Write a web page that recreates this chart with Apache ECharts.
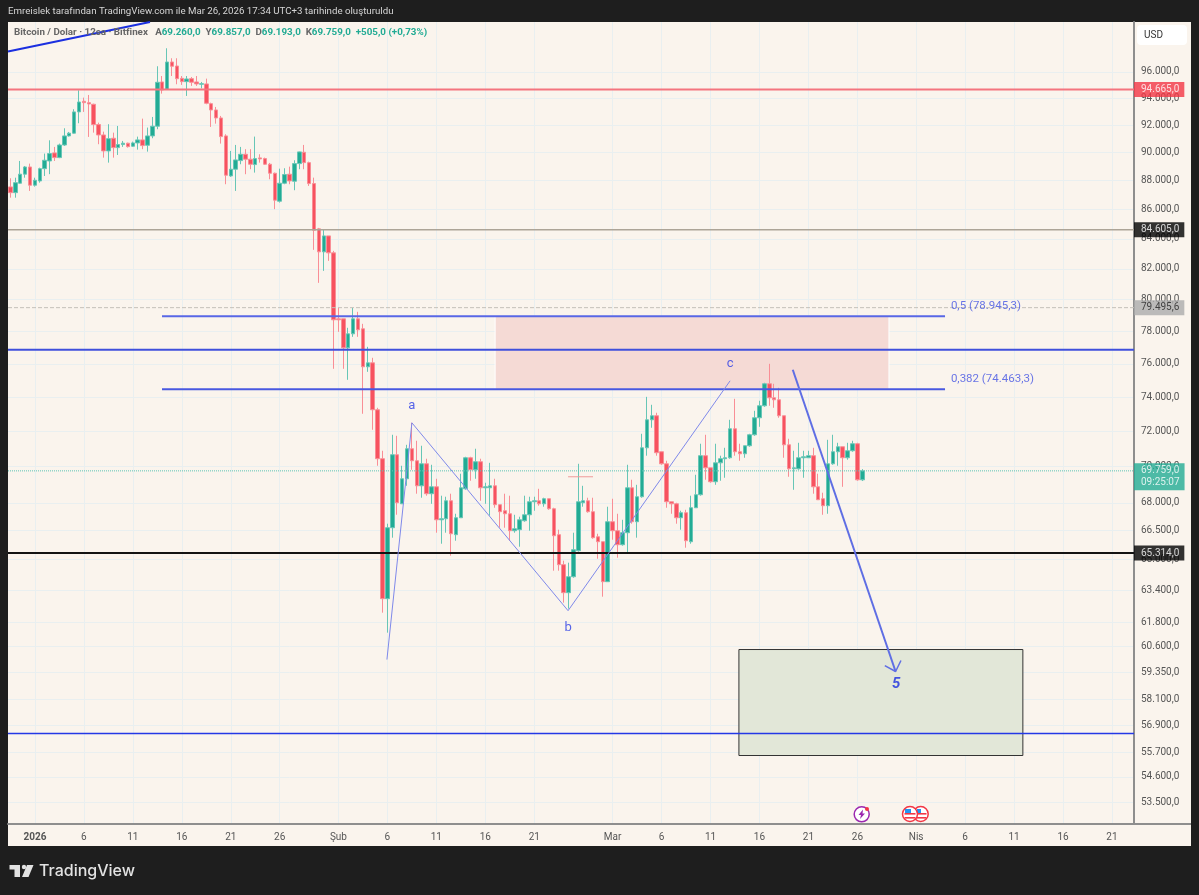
<!DOCTYPE html>
<html lang="tr">
<head>
<meta charset="UTF-8">
<title>Bitcoin / Dolar</title>
<style>
html,body{margin:0;padding:0;background:#1e1e1e;}
#main{width:1199px;height:895px;}
</style>
</head>
<body>
<div id="main"></div>
<script src="https://cdn.jsdelivr.net/npm/echarts@6/dist/echarts.min.js"></script>
<script>
// 12h candles, index 5 is 1 Jan 2026
var opens = [
87560,87160,87820,88460,88970,87680,87980,88850,89400,89980,
89640,90550,91210,91410,92980,93775,93670,93550,92040,91280,
90120,91040,90360,90580,90680,90460,90700,90920,90530,91210,
91920,95235,94680,96770,96460,95515,95260,95490,95235,95060,
95085,93595,93125,92530,91210,88335,88810,89425,89880,89525,
89140,89620,89570,89165,88525,86565,87820,88456,87960,89210,
90025,89280,87795,84670,83125,84195,83060,78787,78787,76980,
77847,78787,78160,75820,76060,73255,70440,62975,66655,70665,
67945,69320,71005,70326,68930,70155,68495,68875,67080,67135,
68110,66285,67190,68765,70495,69820,70270,68820,68820,68930,
67895,67568,67405,66495,66550,67029,67350,68055,68110,67945,
68220,67675,66285,64712,63278,64092,65440,68000,68110,67515,
66175,65912,63837,66975,66495,65755,66390,68820,66975,68330,
71060,72670,72905,70835,70155,68055,67945,67190,67460,65912,
67730,68440,70610,69930,69155,70210,70440,70495,72150,70835,
70720,71175,71804,72788,73490,74795,73960,73843,72905,71230,
69876,69876,70495,70495,70610,68875,68220,67840,70155,70835,
71118,70495,70891,71290,69260];
var highs = [
88170,88210,89400,89040,89210,88210,88920,89930,90890,90410,
90650,91770,91500,93180,94600,94050,94250,93595,92185,91523,
92068,91450,91940,90844,90720,90795,91158,92480,91820,92605,
96440,95690,97838,97060,97060,95690,95690,95615,95690,95235,
95490,93670,93350,92680,91330,90120,90554,90410,90245,90245,
91160,89880,89640,89260,88570,88850,88880,88995,89450,90070,
90554,89350,88214,84735,84600,84195,83192,79483,78787,78223,
79483,79230,78473,77040,76368,73372,70891,66870,71804,71745,
70045,71230,72495,71460,71175,70440,70100,69320,68385,68330,
68495,67405,69600,70550,70550,71005,70440,69100,70210,69320,
67895,68495,68385,67350,67245,68385,68330,68330,68765,68275,
68220,67730,66550,64918,64815,66390,70155,68930,68275,68275,
66335,65912,67785,68220,67405,67080,70100,69265,68985,71860,
74018,73548,73080,70835,70326,68055,68000,67568,67620,68385,
69540,71290,71804,69930,71290,70610,71060,72670,73900,71290,
71175,71860,73196,73784,74855,76000,74795,74555,72905,71575,
70891,71345,70891,70891,71060,69600,68550,71515,71804,71345,
71118,71345,71460,71345,69857];
var lows = [
86810,86810,87790,88210,87280,87580,87860,88330,88460,89400,
89600,90480,91160,91380,92140,92980,91136,91450,90605,89638,
89280,89638,89830,90410,90360,90410,90215,90245,90070,91040,
91700,94350,94628,95690,95060,95010,94175,94935,94935,94750,
93550,91870,92110,90650,87750,88265,87282,89165,88456,88810,
88570,89280,89115,88100,86015,86470,87750,87750,87330,88810,
88810,87630,83260,81090,81871,82529,75697,77970,75697,75034,
77660,77660,73022,75515,72092,70045,62273,61285,66125,67352,
67945,68930,69820,68495,68275,68385,67945,66390,65807,66390,
65180,65965,67190,68710,69209,69320,68110,67945,67300,67730,
66655,66655,65965,66390,65650,66975,66495,67568,67840,67785,
67620,64401,64401,62774,62473,64040,65388,67785,67460,66070,
65022,63075,63837,66018,65075,65702,65283,66870,66125,68275,
70610,72208,70610,70100,67730,67405,66870,66550,65597,65807,
67730,68385,69265,69100,68985,69209,69375,70440,70610,70326,
70495,71118,71745,72265,73430,73490,73372,72788,70495,69430,
68710,69820,69375,70495,68495,68165,67350,67405,70100,70045,
68875,70382,70835,69209,69193];
var closes = [
87160,87860,88460,88970,87680,88030,88850,89450,89930,89640,
90550,91210,91410,92980,93720,93670,93573,92040,91280,90120,
91010,90360,90580,90680,90430,90700,90920,90505,91210,91920,
95212,94628,96770,96440,95485,95260,95465,95212,95085,95105,
93625,93125,92530,91160,88385,88810,89475,89880,89525,89165,
89570,89545,89165,88525,86635,87820,88430,87983,89210,90050,
89280,87795,84580,83125,84195,83060,78725,78725,76980,77847,
78787,78097,75820,76060,73255,70440,62975,66655,70665,68000,
69320,71005,70326,68930,70155,68495,68875,67080,67135,68110,
66335,67190,68820,70495,69820,70270,68820,68875,68930,67895,
67515,67405,66495,66600,67080,67350,68055,68110,67945,68220,
67675,66230,64712,63278,64092,65492,68055,68110,67515,66125,
65912,63837,66975,66495,65755,66390,68820,66975,68330,71060,
72670,72905,70778,70155,68055,67945,67190,67460,65965,67730,
68440,70610,69930,69155,70210,70440,70495,72150,70835,70720,
71175,71804,72788,73490,74795,73960,73843,72905,71230,69876,
69930,70495,70550,70610,68875,68165,67840,70155,70835,71118,
70495,70891,71290,69260,69759];

var slotCount = 230;
var xTickIndex = [5,15,25,35,45,55,67,77,87,97,107,123,133,143,153,163,173,185,195,205,215,225];
var xTickText = ['2026','6','11','16','21','26','Şub','6','11','16','21','Mar','6','11','16','21','26','Nis','6','11','16','21'];
var yTicks = [96000,94000,92000,90000,88000,86000,84000,82000,80000,78000,76000,74000,72000,70000,68000,66500,65000,63400,61800,60600,59350,58100,56900,55700,54600,53500];

// price levels across the full width
var redLevel = 94665, tanLevel = 84605, dashLevel = 79495.6, blueLevel = 76856, lastPrice = 69759, blackLevel = 65314, lowLevel = 56530;
var fibPrices = [78945.3, 74463.3];
var fibFrom = 30.96, fibTo = 190.9;
// drawings, [slot, price]
var trendTop = [[-0.5,97580],[28.5,99918]];
var waveLine = [[76.9,59980],[82,72495],[113.9,62373],[147,74974]];
var arrowShaft = [[159.8,75637],[180.8,59410]];
var arrowHead = [[178.6,59693],[180.8,59410],[181.9,59933]];
var smallMark = [[113.9,69430],[119,69430]];
var pinkBox = [[99,78945.3],[179.45,74463.3]];
var greenBox = [[148.8,60463],[206.8,55545]];
var waveLabels = [['a',82,73492],['b',113.9,61526],['c',147,76000]];
var fiveLabel = [180.9,58790];
var fibLabels = [['0,5 (78.945,3)',192.1,79610],['0,382 (74.463,3)',192.1,75090]];
// tags in the price scale
var tagPrices = [94665,84605,79495.6,65314,69430];
var tagTexts = ['94.665,0','84.605,0','79.495,6','65.314,0','69.759,0\n09:25:07'];
var tagBack = ['#f23645','#000000','#ababab','#000000','#22ab94'];
var tagFore = ['#ffffff','#ffffff','#222222','#ffffff','#ffffff'];

var FONT = 'Roboto';
var upColor = '#22ab94', downColor = '#f7525f', upWick = '#67c6b6', downWick = '#f98e96', paper = '#faf4ed', gridColor = '#e9eff0';

var categories = [];
for (var i = 0; i < slotCount; i++) categories.push('s' + i);
var candles = [];
for (var k = 0; k < opens.length; k++) candles.push([opens[k], closes[k], lows[k], highs[k]]);

function priceText(v) {
    var n = String(Math.round(v));
    return n.slice(0, n.length - 3) + '.' + n.slice(-3) + ',0';
}
function drawn(name, data, color, width, type, z) {
    return {
        name: name, type: 'line', xAxisIndex: 1, data: data, symbol: 'none', silent: true, z: z || 5,
        lineStyle: {color: color, width: width, type: type || 'solid'}
    };
}
function level(name, price, color, width, type) {
    return drawn(name, [[-0.5, price], [slotCount - 0.5, price]], color, width, type, 4);
}

var series = [
    {
        name: 'boxes', type: 'line', xAxisIndex: 1, data: [], z: 1, silent: true,
        markArea: {
            silent: true,
            data: [
                [{xAxis: pinkBox[0][0], yAxis: pinkBox[0][1], itemStyle: {color: '#f5dad5', borderColor: '#ffffff', borderWidth: 1}},
                 {xAxis: pinkBox[1][0], yAxis: pinkBox[1][1]}],
                [{xAxis: greenBox[0][0], yAxis: greenBox[0][1], itemStyle: {color: '#e2e7d8', borderColor: '#333333', borderWidth: 1}},
                 {xAxis: greenBox[1][0], yAxis: greenBox[1][1]}]
            ]
        }
    },
    level('last', lastPrice, '#5cc4b4', 1, 'dotted'),
    {
        name: 'BTC', type: 'candlestick', data: candles, barWidth: 4, z: 3, silent: true,
        itemStyle: {color: upColor, color0: downColor, borderColor: upWick, borderColor0: downWick, borderWidth: 1}
    },
    level('red', redLevel, '#f4747f', 2),
    level('tan', tanLevel, '#aca497', 1.5),
    level('dash', dashLevel, '#c4c0ba', 1, 'dashed'),
    level('blue', blueLevel, '#3f4fdc', 2),
    level('black', blackLevel, '#131313', 2),
    level('low', lowLevel, '#2438e6', 1.5),
    drawn('fib5', [[fibFrom, fibPrices[0]], [fibTo, fibPrices[0]]], '#5867e6', 2),
    drawn('fib382', [[fibFrom, fibPrices[1]], [fibTo, fibPrices[1]]], '#4858e0', 2),
    drawn('trend', trendTop, '#1b2fe0', 2),
    drawn('wave', waveLine, '#7f89ea', 1),
    drawn('arrow', arrowShaft, '#5f6ee4', 2),
    drawn('arrowHead', arrowHead, '#5f6ee4', 1.5),
    drawn('mark', smallMark, '#ef9a9a', 1),
    {
        name: 'waves', type: 'scatter', xAxisIndex: 1, symbolSize: 0, silent: true, z: 6,
        data: waveLabels.map(function (w) { return {value: [w[1], w[2]], name: w[0]}; }),
        label: {show: true, position: 'inside', formatter: '{b}', color: '#2a3de6', fontFamily: FONT, fontSize: 13}
    },
    {
        name: 'five', type: 'scatter', xAxisIndex: 1, symbolSize: 0, silent: true, z: 6,
        data: [{value: fiveLabel, name: '5'}],
        label: {show: true, position: 'inside', formatter: '{b}', color: '#1a2de0', fontFamily: FONT, fontSize: 15, fontWeight: 'bold', fontStyle: 'italic'}
    },
    {
        name: 'fibText', type: 'scatter', xAxisIndex: 1, symbolSize: 0, silent: true, z: 6,
        data: fibLabels.map(function (w) { return {value: [w[1], w[2]], name: w[0]}; }),
        label: {show: true, position: 'right', distance: 0, formatter: '{b}', color: '#4454e4', fontFamily: FONT, fontSize: 11.5}
    },
    {
        name: 'tags', type: 'scatter', xAxisIndex: 1, symbolSize: 0, silent: true, z: 8, clip: false,
        data: tagPrices.map(function (p, n) {
            return {
                value: [slotCount - 0.5, p], name: tagTexts[n],
                label: {
                    show: true, position: 'right', distance: 0, formatter: '{b}',
                    backgroundColor: tagBack[n], color: tagFore[n], padding: [2, 5, 1, 7],
                    fontFamily: FONT, fontSize: 10, lineHeight: 12
                }
            };
        })
    }
];

var myChart = echarts.init(document.getElementById('main'), null, {renderer: 'canvas'});
var option = {
    animation: false,
    backgroundColor: '#1e1e1e',
    title: [
        {
            text: 'Emreislek tarafından TradingView.com ile Mar 26, 2026 17:34 UTC+3 tarihinde oluşturuldu',
            left: 8, top: 7, padding: 0, textStyle: {color: '#d6d6d6', fontFamily: FONT, fontSize: 9.7, fontWeight: 'normal'}
        },
        {
            text: '{g|Bitcoin / Dolar · 12sa · Bitfinex   A}{t|69.260,0  }{g|Y}{t|69.857,0  }{g|D}{t|69.193,0  }{g|K}{t|69.759,0  +505,0 (+0,73%)}',
            left: 14, top: 28, padding: 0, z: 9,
            textStyle: {rich: {
                g: {color: '#666666', fontFamily: FONT, fontSize: 9.8},
                t: {color: '#22ab94', fontFamily: FONT, fontSize: 9.8}
            }}
        },
        {
            text: 'TradingView',
            left: 39, top: 863, padding: 0, textStyle: {color: '#e2e2e2', fontFamily: 'Inter', fontSize: 16, fontWeight: 500}
        }
    ],
    grid: {left: 8, right: 65, top: 22, bottom: 71},
    xAxis: [
        {
            type: 'category', data: categories, boundaryGap: true, position: 'bottom',
            axisLine: {lineStyle: {color: '#8e8e8e', width: 2}},
            axisTick: {show: false},
            axisLabel: {
                color: '#555555', fontFamily: FONT, fontSize: 10, margin: 8, hideOverlap: false,
                interval: function (index) { return xTickIndex.indexOf(index) >= 0; },
                formatter: function (value, index) {
                    var p = xTickIndex.indexOf(index);
                    if (p < 0) return '';
                    return p === 0 ? '{b|' + xTickText[p] + '}' : xTickText[p];
                },
                rich: {b: {fontWeight: 'bold', color: '#555555', fontFamily: FONT, fontSize: 10}}
            },
            splitLine: {
                show: true, alignWithLabel: true, lineStyle: {color: gridColor, width: 1},
                interval: function (index) { return xTickIndex.indexOf(index) >= 0; }
            }
        },
        {type: 'value', show: false, min: -0.5, max: slotCount - 0.5, splitLine: {show: false}}
    ],
    yAxis: {
        type: 'log', logBase: 10, position: 'right', min: 52582, max: 99918,
        axisLine: {show: true, onZero: false, lineStyle: {color: '#8e8e8e', width: 2}},
        axisTick: {show: false, customValues: yTicks},
        axisLabel: {
            customValues: yTicks, color: '#555555', fontFamily: FONT, fontSize: 10, margin: 7,
            showMinLabel: true, showMaxLabel: true, hideOverlap: false,
            formatter: priceText
        },
        splitLine: {show: true, lineStyle: {color: gridColor, width: 1}},
        minorTick: {show: false}, minorSplitLine: {show: false}
    },
    graphic: [
        {type: 'rect', z: -10, silent: true, shape: {x: 8, y: 22, width: 1183, height: 824}, style: {fill: paper}},
        {type: 'line', z: 1, silent: true, shape: {x1: 1134, y1: 824, x2: 1191, y2: 824}, style: {stroke: '#8e8e8e', lineWidth: 2}},
        {type: 'rect', z: 9, silent: true, shape: {x: 1137, y: 25, width: 50, height: 20, r: 4}, style: {fill: '#ffffff'}},
        {type: 'text', z: 10, silent: true, x: 1144, y: 30, style: {text: 'USD', fill: '#333333', font: '10px ' + FONT}},
        // TradingView mark
        {type: 'polygon', silent: true, shape: {points: [[9.5,865],[20,865],[20,877],[14.5,877],[14.5,869.5],[9.5,869.5]]}, style: {fill: '#e2e2e2'}},
        {type: 'circle', silent: true, shape: {cx: 24, cy: 867, r: 2.2}, style: {fill: '#e2e2e2'}},
        {type: 'polygon', silent: true, shape: {points: [[27,865],[33.5,865],[28.5,877],[22,877]]}, style: {fill: '#e2e2e2'}},
        // event icons
        {type: 'circle', z: 9, silent: true, shape: {cx: 861.7, cy: 814.3, r: 7.5}, style: {fill: '#ffffff', stroke: '#9c27b0', lineWidth: 1.5}},
        {type: 'polygon', z: 9, silent: true, shape: {points: [[863,809.5],[858.5,815],[861,815],[860,819],[865,813.5],[862.5,813.5]]}, style: {fill: '#9c27b0'}},
        {type: 'circle', z: 9, silent: true, shape: {cx: 867, cy: 809, r: 2}, style: {fill: '#f23645'}},
        {type: 'circle', z: 9, silent: true, shape: {cx: 920.7, cy: 814, r: 7.5}, style: {fill: '#ffffff', stroke: '#f23645', lineWidth: 1.5}},
        {type: 'rect', z: 9, silent: true, shape: {x: 915, y: 813, width: 11.5, height: 1.6}, style: {fill: '#f23645'}},
        {type: 'rect', z: 9, silent: true, shape: {x: 915, y: 817, width: 11.5, height: 1.6}, style: {fill: '#f23645'}},
        {type: 'rect', z: 9, silent: true, shape: {x: 917, y: 809, width: 4, height: 4}, style: {fill: '#2196f3'}},
        {type: 'circle', z: 9, silent: true, shape: {cx: 910, cy: 814, r: 7.5}, style: {fill: '#ffffff', stroke: '#f23645', lineWidth: 1.5}},
        {type: 'rect', z: 9, silent: true, shape: {x: 904.5, y: 813, width: 11, height: 1.6}, style: {fill: '#f23645'}},
        {type: 'rect', z: 9, silent: true, shape: {x: 904.5, y: 817, width: 11, height: 1.6}, style: {fill: '#f23645'}},
        {type: 'rect', z: 9, silent: true, shape: {x: 905, y: 809, width: 6, height: 4}, style: {fill: '#2196f3'}}
    ],
    series: series
};
myChart.setOption(option);
</script>
</body>
</html>
